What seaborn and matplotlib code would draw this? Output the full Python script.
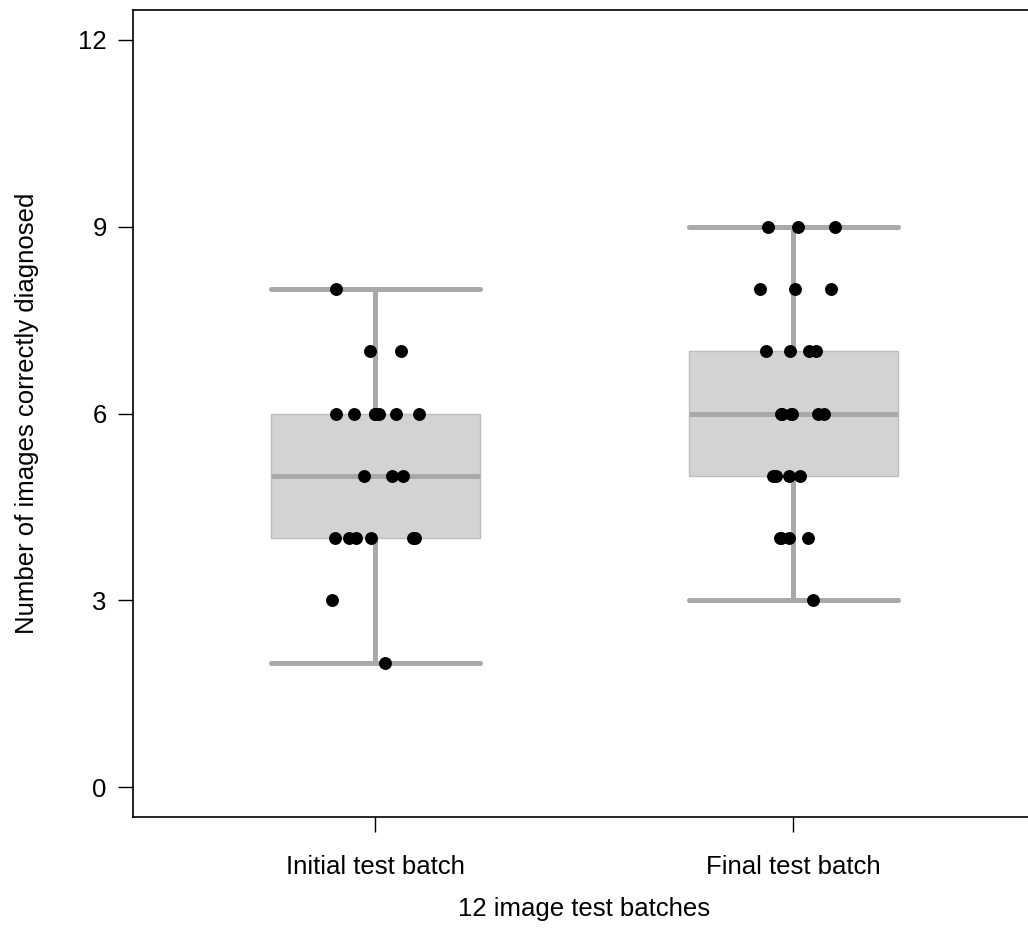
import numpy as np
import pandas as pd
import matplotlib
matplotlib.use("Agg")
import matplotlib.pyplot as plt
import seaborn as sb

# values (one dot per test)
categorias = ["Initial test batch", "Final test batch"]
initial_vals = [8, 7, 7, 6, 6, 6, 6, 6, 6, 6, 5, 5, 5, 4, 4, 4, 4, 4, 4, 3, 2]
final_vals = [9, 9, 9, 8, 8, 8, 7, 7, 7, 7, 6, 6, 6, 6, 6, 6, 5, 5, 5, 5, 4, 4, 4, 4, 3]
y_ticks = [0, 3, 6, 9, 12]

t = pd.DataFrame({
  "batch": [categorias[0]] * len(initial_vals) + [categorias[1]] * len(final_vals),
  "count": initial_vals + final_vals
})

sb.set_style("ticks")
plt.rcParams["font.family"] = ["Liberation Sans", "DejaVu Sans"]
plt.rcParams["text.color"] = "black"
plt.rcParams["axes.labelcolor"] = "black"
plt.rcParams["xtick.color"] = "black"
plt.rcParams["ytick.color"] = "black"

fig = plt.figure(figsize=(10.28, 9.41), dpi=100)
ax = fig.add_axes([0.1294, 1 - 817/941, 0.878, 807/941])

gri = "#a9a9a9"
sb.boxplot(data=t, x="batch", y="count", order=categorias, width=0.5,
           whis=(0, 100), showfliers=False, ax=ax,
           boxprops=dict(facecolor="#d3d3d3", edgecolor="#bdbdbd", linewidth=1),
           medianprops=dict(color=gri, linewidth=3.6),
           whiskerprops=dict(color=gri, linewidth=3.6),
           capprops=dict(color=gri, linewidth=3.6, solid_capstyle="round"),
           capwidths=0.5)

np.random.seed(7)
sb.stripplot(data=t, x="batch", y="count", order=categorias, jitter=0.11,
             color="black", size=9.3, linewidth=0, ax=ax, zorder=5)

ax.set_xlim(-0.58, 1.58)
ax.set_ylim(-0.48, 12.48)
ax.set_yticks(y_ticks)
ax.set_yticklabels([str(v) for v in y_ticks])
ax.tick_params(axis="both", direction="out", length=11, width=1, labelsize=18.5,
               color="black", labelcolor="black", pad=8)
ax.tick_params(axis="x", pad=16)
for s in ["left", "top", "bottom", "right"]:
  ax.spines[s].set_color("black")
  ax.spines[s].set_linewidth(1.2)

ax.set_xlabel("12 image test batches", fontsize=18.5, labelpad=13, color="black")
ax.set_ylabel("Number of images correctly diagnosed", fontsize=18.5, labelpad=28, color="black")

fig.savefig("out.png", dpi=100)
